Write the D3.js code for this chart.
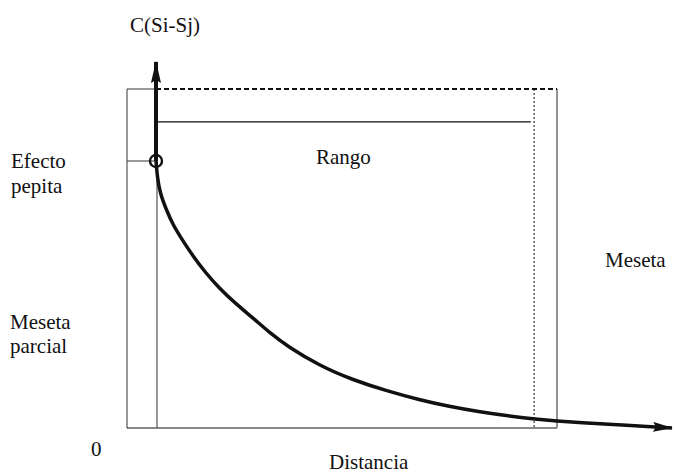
<!DOCTYPE html>
<html>
<head>
<meta charset="utf-8">
<script src="https://cdn.jsdelivr.net/npm/d3@7"></script>
<style>
  body { margin: 0; background: #fff; }
  svg text { font-family: "Liberation Serif"; }
</style>
</head>
<body>
<script>
// curva del covariograma (distancia, C)
var distancia = [5.32, 5.56, 6.06, 7.16, 8.44, 10.28, 12.11, 14.31, 16.88, 20.0, 23.12, 26.24, 29.36, 35.41, 41.47, 47.71, 53.76, 58.72, 64.77, 70.83, 74.86, 78.9, 83.12, 90.46, 100];
var covarianza = [78.76, 74.04, 69.32, 64.6, 59.88, 55.16, 50.74, 46.02, 41.3, 36.58, 32.45, 28.02, 24.19, 18.29, 14.16, 10.91, 8.26, 6.49, 4.72, 3.39, 2.65, 2.06, 1.62, 0.88, 0];

var origen = 5.32;       // eje vertical
var meseta = 100;        // techo
var pepita = 78.76;      // efecto pepita
var rangoY = 90.3;
var rangoFin = 74.1;
var rangoX = 74.7;       // linea punteada
var bordeDer = 78.9;
var ejeYtope = 108;

var etiquetas = [
  {t: "C(Si-Sj)", x: 130, y: 32},
  {t: "Efecto", x: 11, y: 168},
  {t: "pepita", x: 11, y: 193},
  {t: "Rango", x: 316, y: 164},
  {t: "Meseta", x: 605, y: 267},
  {t: "Meseta", x: 10, y: 329},
  {t: "parcial", x: 10, y: 353},
  {t: "0", x: 91, y: 456},
  {t: "Distancia", x: 329, y: 469}
];

var W = 675, H = 474;
var svg = d3.select("body").append("svg").attr("width", W).attr("height", H);

var xScale = d3.scaleLinear().domain([0, 100]).range([127, 672]);
var yScale = d3.scaleLinear().domain([0, 100]).range([428, 89]);

var defs = svg.append("defs");
defs.append("marker").attr("id", "flecha")
  .attr("viewBox", "0 0 20 10").attr("refX", 19).attr("refY", 5)
  .attr("markerUnits", "userSpaceOnUse")
  .attr("markerWidth", 20).attr("markerHeight", 10).attr("orient", "auto")
  .append("path").attr("d", "M0,0 L20,5 L0,10 L3,5 Z").attr("fill", "#111");
defs.append("marker").attr("id", "flechaV")
  .attr("viewBox", "0 0 22 10").attr("refX", 21).attr("refY", 5)
  .attr("markerUnits", "userSpaceOnUse")
  .attr("markerWidth", 22).attr("markerHeight", 10).attr("orient", "auto")
  .append("path").attr("d", "M0,0 L22,5 L0,10 L3,5 Z").attr("fill", "#111");

// rectangulo exterior
svg.append("line")
  .attr("x1", xScale(0)).attr("x2", xScale(0))
  .attr("y1", yScale(meseta)).attr("y2", yScale(0))
  .attr("stroke", "#555").attr("stroke-width", 1.2);
svg.append("line")
  .attr("x1", xScale(0)).attr("x2", xScale(origen))
  .attr("y1", yScale(meseta)).attr("y2", yScale(meseta))
  .attr("stroke", "#555").attr("stroke-width", 1.2);
svg.append("line")
  .attr("x1", xScale(0)).attr("x2", xScale(bordeDer))
  .attr("y1", yScale(0)).attr("y2", yScale(0))
  .attr("stroke", "#111").attr("stroke-width", 1.2);
svg.append("line")
  .attr("x1", xScale(bordeDer)).attr("x2", xScale(bordeDer))
  .attr("y1", yScale(meseta)).attr("y2", yScale(0))
  .attr("stroke", "#777").attr("stroke-width", 1.6);
svg.append("line")
  .attr("x1", xScale(origen) + 1).attr("x2", xScale(origen) + 1)
  .attr("y1", yScale(pepita)).attr("y2", yScale(0))
  .attr("stroke", "#555").attr("stroke-width", 1.2);

// techo punteado
svg.append("line")
  .attr("x1", xScale(origen)).attr("x2", xScale(bordeDer))
  .attr("y1", yScale(meseta)).attr("y2", yScale(meseta))
  .attr("stroke", "#111").attr("stroke-width", 2)
  .attr("stroke-dasharray", "5,3");

// linea del rango
svg.append("line")
  .attr("x1", xScale(origen)).attr("x2", xScale(rangoFin))
  .attr("y1", yScale(rangoY)).attr("y2", yScale(rangoY))
  .attr("stroke", "#111").attr("stroke-width", 1.3);

svg.append("line")
  .attr("x1", xScale(rangoX)).attr("x2", xScale(rangoX))
  .attr("y1", yScale(meseta)).attr("y2", yScale(0))
  .attr("stroke", "#111").attr("stroke-width", 1)
  .attr("stroke-dasharray", "2,2");

// efecto pepita
svg.append("line")
  .attr("x1", xScale(0)).attr("x2", xScale(origen))
  .attr("y1", yScale(pepita)).attr("y2", yScale(pepita))
  .attr("stroke", "#555").attr("stroke-width", 1.2);

// eje vertical con flecha
svg.append("line")
  .attr("x1", xScale(origen)).attr("x2", xScale(origen))
  .attr("y1", yScale(pepita)).attr("y2", yScale(ejeYtope))
  .attr("stroke", "#111").attr("stroke-width", 4)
  .attr("marker-end", "url(#flechaV)");

// curva
var puntos = distancia.map(function(d, i) { return {x: d, y: covarianza[i]}; });
var linea = d3.line()
  .x(function(d) { return xScale(d.x); })
  .y(function(d) { return yScale(d.y); })
  .curve(d3.curveBasis);
svg.append("path")
  .datum(puntos)
  .attr("d", linea)
  .attr("fill", "none").attr("stroke", "#111").attr("stroke-width", 3.5)
  .attr("marker-end", "url(#flecha)");

svg.append("circle")
  .attr("cx", xScale(origen)).attr("cy", yScale(pepita)).attr("r", 6)
  .attr("fill", "none").attr("stroke", "#111").attr("stroke-width", 2.4);

svg.selectAll("text.lab")
  .data(etiquetas)
  .enter()
  .append("text")
  .attr("class", "lab")
  .attr("x", function(d) { return d.x; })
  .attr("y", function(d) { return d.y; })
  .style("font-family", "Liberation Serif, DejaVu Serif, serif")
  .style("font-size", "21px")
  .attr("fill", "#111")
  .text(function(d) { return d.t; });
</script>
</body>
</html>
